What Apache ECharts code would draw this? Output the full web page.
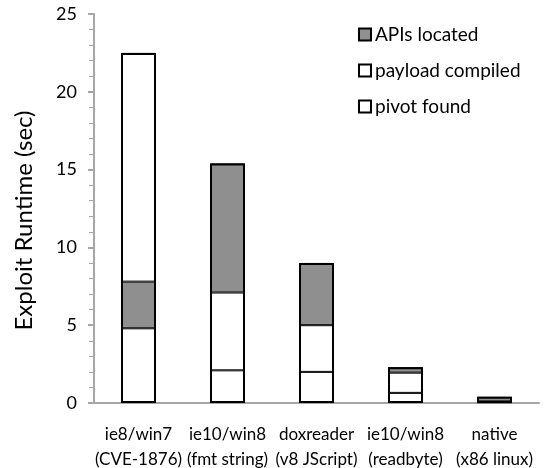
<!DOCTYPE html>
<html><head><meta charset="utf-8">
<script src="https://cdn.jsdelivr.net/npm/echarts@6/dist/echarts.min.js"></script>
<style>html,body{margin:0;padding:0;background:#fff}#c{width:544px;height:468px}</style>
</head><body><div id="c"></div>
<script>
const categories = ['ie8/win7\n(CVE-1876)', 'ie10/win8\n(fmt string)', 'doxreader\n(v8 JScript)', 'ie10/win8\n(readbyte)', 'native\n(x86 linux)'];
const pivotFound = [4.8, 2.1, 2.0, 0.65, 0.05];
const apisLocatedLow = [3.0, '-', '-', '-', '-'];
const payloadCompiled = [14.7, 5.0, 3.0, 1.3, 0.05];
const apisLocated = ['-', 8.3, 4.0, 0.35, 0.3];
const legendNames = ['APIs located', 'payload compiled', 'pivot found'];
const yTicks = [0, 5, 10, 15, 20, 25];

const num = v => (v === '-' ? 0 : v);
const totals = categories.map((_, i) =>
  +(num(pivotFound[i]) + num(apisLocatedLow[i]) + num(payloadCompiled[i]) + num(apisLocated[i])).toFixed(3));

const font = 'Lato, "Open Sans", sans-serif';
function bar(name, data, color) {
  return {name: name, type: 'bar', stack: 'total', data: data, barWidth: 35,
    itemStyle: {color: color, borderColor: '#000', borderWidth: 1}};
}
const chart = echarts.init(document.getElementById('c'));
chart.setOption({
  animation: false,
  grid: {left: 94, right: 5, top: 14, bottom: 65, containLabel: false, outerBoundsMode: 'none'},
  legend: {
    orient: 'vertical', left: 353, top: 20, itemWidth: 12, itemHeight: 12, itemGap: 17,
    icon: 'rect', data: legendNames,
    textStyle: {fontFamily: font, fontSize: 19, color: '#000', padding: [0, 0, 0, -1]},
    itemStyle: {borderColor: '#000', borderWidth: 2}
  },
  xAxis: {
    type: 'category', data: categories,
    axisLine: {lineStyle: {color: '#a6a6a6', width: 2}},
    axisTick: {show: false},
    axisLabel: {interval: 0, fontFamily: font, fontSize: 17, color: '#000', margin: 19, lineHeight: 25}
  },
  yAxis: {
    type: 'value', min: 0, max: 25, interval: 5,
    name: 'Exploit Runtime (sec)', nameLocation: 'middle', nameGap: 58, nameRotate: 90,
    nameTextStyle: {fontFamily: font, fontSize: 24, color: '#000', padding: [0, 24, 0, 0]},
    axisLine: {show: true, lineStyle: {color: '#a6a6a6', width: 2}},
    axisTick: {show: true, length: 6, lineStyle: {color: '#a6a6a6', width: 2}},
    minorTick: {show: true, splitNumber: 5, length: 5, lineStyle: {color: '#a6a6a6', width: 1}},
    splitLine: {show: false},
    axisLabel: {fontFamily: font, fontSize: 18, color: '#000', margin: 17,
      formatter: v => yTicks.includes(v) ? String(v) : ''}
  },
  series: [
    bar('pivot found', pivotFound, '#ffffff'),
    bar('APIs located', apisLocatedLow, '#8f8f8f'),
    bar('payload compiled', payloadCompiled, '#ffffff'),
    bar('APIs located', apisLocated, '#8f8f8f'),
    {name: 'outline', type: 'bar', data: totals, barWidth: 35, barGap: '-100%', z: 3,
      silent: true, tooltip: {show: false},
      itemStyle: {color: 'rgba(0,0,0,0)', borderColor: '#000', borderWidth: 2}}
  ]
});
</script></body></html>
